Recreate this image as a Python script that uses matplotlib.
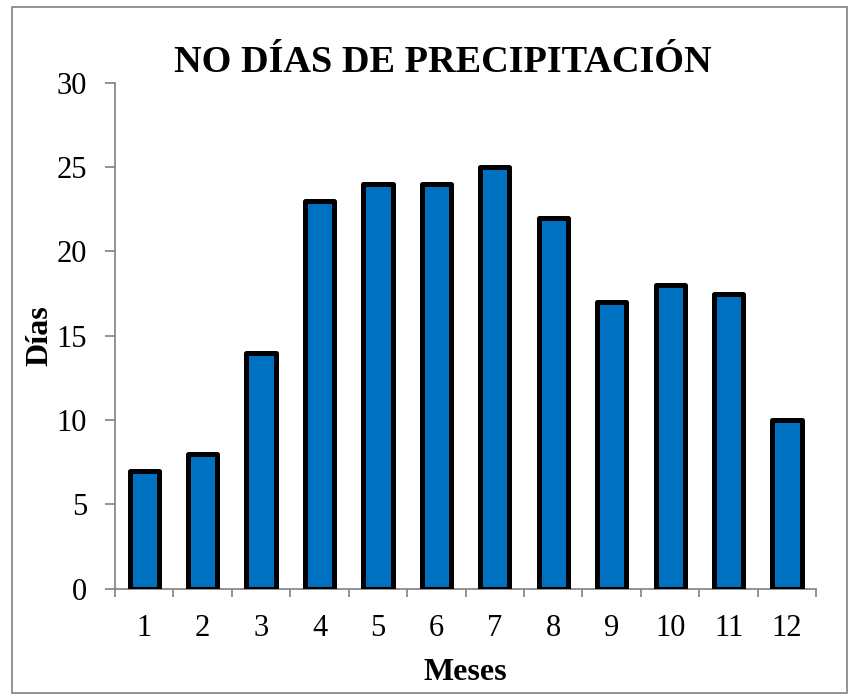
import numpy as np
import matplotlib
matplotlib.use("Agg")
import matplotlib.pyplot as plt
from matplotlib.patches import Rectangle

meses = [1, 2, 3, 4, 5, 6, 7, 8, 9, 10, 11, 12]
dias = [7, 8, 14, 23, 24, 24, 25, 22, 17, 18, 17.5, 10]
yticks = [0, 5, 10, 15, 20, 25, 30]

plt.rcParams['font.family'] = ['Liberation Serif', 'DejaVu Serif']

fig = plt.figure(figsize=(8.52, 6.96), dpi=100)
ax = fig.add_axes([0.135, 0.154, 0.823, 0.727])

x = np.arange(len(meses))
ax.bar(x, dias, width=0.5, color='#0070C0', edgecolor='black', linewidth=3.6,
       joinstyle='round', zorder=3)

ax.set_xlim(-0.5, len(meses) - 0.5)
ax.set_ylim(0, 30)
ax.set_yticks(yticks)
ax.set_yticklabels([str(v) for v in yticks], fontsize=22)
ax.set_xticks(x)
ax.set_xticklabels([str(m) for m in meses], fontsize=22)
ax.tick_params(axis='x', which='major', length=0, pad=18)
ax.set_xticks(np.arange(-0.5, len(meses), 1), minor=True)
ax.tick_params(axis='x', which='minor', length=6, color='#808080', width=1.2)
ax.tick_params(axis='y', length=7, color='#808080', width=1.2, pad=13)

for side in ['top', 'right']:
    ax.spines[side].set_visible(False)
for side in ['left', 'bottom']:
    ax.spines[side].set_color('#808080')
    ax.spines[side].set_linewidth(1.2)

ax.set_xlabel('Meses', fontsize=23, fontweight='bold', labelpad=11)
ax.set_ylabel('Días', fontsize=23, fontweight='bold', labelpad=2)
fig.text(0.52, 0.91, 'NO DÍAS DE PRECIPITACIÓN', fontsize=27.5, fontweight='bold',
         ha='center', va='center')

fig.patches.append(Rectangle((0.014, 0.004), 0.98, 0.986, transform=fig.transFigure,
                             fill=False, edgecolor='#808080', linewidth=1.2))

fig.savefig('out.png', dpi=100)
